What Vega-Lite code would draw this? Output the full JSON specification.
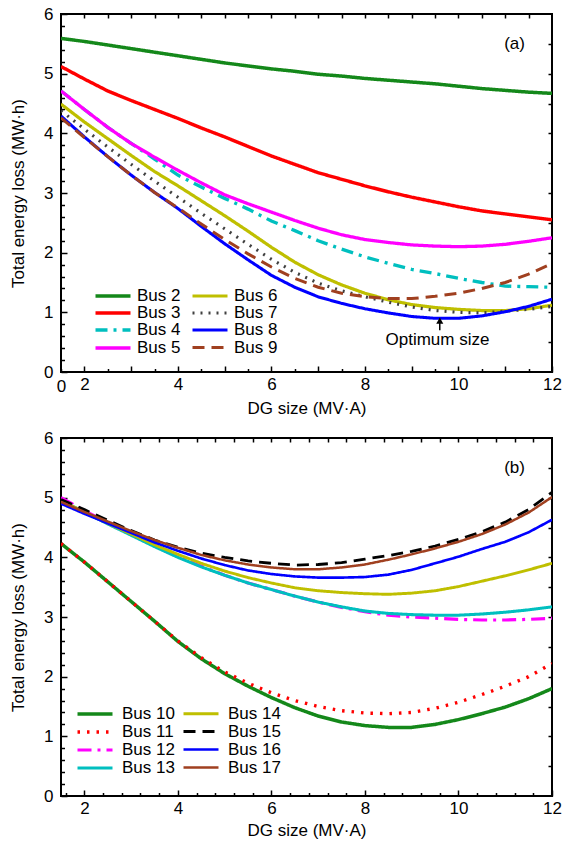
{
  "$schema": "https://vega.github.io/schema/vega-lite/v6.json",
  "padding": {"left": 8, "top": 4, "right": 2, "bottom": 4},
  "config": {
    "font": "Liberation Sans",
    "view": {"stroke": "black", "strokeWidth": 2},
    "axis": {"grid": false, "domain": false, "labelFontSize": 17, "titleFontSize": 17, "titleFontWeight": "normal", "labelColor": "black", "titleColor": "black", "tickColor": "black", "tickWidth": 1.5, "labelFont": "Liberation Sans", "titleFont": "Liberation Sans"},
    "legend": {"labelFont": "Liberation Sans", "labelFontSize": 17, "labelColor": "black"}
  },
  "datasets": {
    "a": [
      {"x": 1.5, "Bus 2": 5.59, "Bus 3": 5.12, "Bus 4": 4.71, "Bus 5": 4.71, "Bus 6": 4.49, "Bus 7": 4.38, "Bus 8": 4.29, "Bus 9": 4.26},
      {"x": 2, "Bus 2": 5.54, "Bus 3": 4.91, "Bus 4": 4.40, "Bus 5": 4.40, "Bus 6": 4.19, "Bus 7": 4.07, "Bus 8": 3.94, "Bus 9": 3.93},
      {"x": 2.5, "Bus 2": 5.48, "Bus 3": 4.71, "Bus 4": 4.10, "Bus 5": 4.10, "Bus 6": 3.91, "Bus 7": 3.77, "Bus 8": 3.61, "Bus 9": 3.61},
      {"x": 3, "Bus 2": 5.42, "Bus 3": 4.55, "Bus 4": 3.83, "Bus 5": 3.83, "Bus 6": 3.63, "Bus 7": 3.48, "Bus 8": 3.30, "Bus 9": 3.30},
      {"x": 3.5, "Bus 2": 5.36, "Bus 3": 4.40, "Bus 4": 3.57, "Bus 5": 3.60, "Bus 6": 3.36, "Bus 7": 3.20, "Bus 8": 3.01, "Bus 9": 3.01},
      {"x": 4, "Bus 2": 5.30, "Bus 3": 4.25, "Bus 4": 3.30, "Bus 5": 3.38, "Bus 6": 3.12, "Bus 7": 2.93, "Bus 8": 2.74, "Bus 9": 2.75},
      {"x": 4.5, "Bus 2": 5.24, "Bus 3": 4.09, "Bus 4": 3.10, "Bus 5": 3.17, "Bus 6": 2.87, "Bus 7": 2.66, "Bus 8": 2.44, "Bus 9": 2.48},
      {"x": 5, "Bus 2": 5.18, "Bus 3": 3.94, "Bus 4": 2.91, "Bus 5": 2.97, "Bus 6": 2.62, "Bus 7": 2.40, "Bus 8": 2.15, "Bus 9": 2.22},
      {"x": 5.5, "Bus 2": 5.13, "Bus 3": 3.78, "Bus 4": 2.73, "Bus 5": 2.82, "Bus 6": 2.36, "Bus 7": 2.14, "Bus 8": 1.88, "Bus 9": 1.98},
      {"x": 6, "Bus 2": 5.08, "Bus 3": 3.62, "Bus 4": 2.53, "Bus 5": 2.68, "Bus 6": 2.09, "Bus 7": 1.89, "Bus 8": 1.62, "Bus 9": 1.76},
      {"x": 6.5, "Bus 2": 5.04, "Bus 3": 3.48, "Bus 4": 2.37, "Bus 5": 2.54, "Bus 6": 1.84, "Bus 7": 1.67, "Bus 8": 1.42, "Bus 9": 1.57},
      {"x": 7, "Bus 2": 4.99, "Bus 3": 3.34, "Bus 4": 2.20, "Bus 5": 2.41, "Bus 6": 1.63, "Bus 7": 1.49, "Bus 8": 1.26, "Bus 9": 1.42},
      {"x": 7.5, "Bus 2": 4.96, "Bus 3": 3.23, "Bus 4": 2.06, "Bus 5": 2.30, "Bus 6": 1.46, "Bus 7": 1.36, "Bus 8": 1.15, "Bus 9": 1.32},
      {"x": 8, "Bus 2": 4.92, "Bus 3": 3.12, "Bus 4": 1.93, "Bus 5": 2.22, "Bus 6": 1.32, "Bus 7": 1.26, "Bus 8": 1.06, "Bus 9": 1.26},
      {"x": 8.5, "Bus 2": 4.89, "Bus 3": 3.02, "Bus 4": 1.82, "Bus 5": 2.17, "Bus 6": 1.21, "Bus 7": 1.17, "Bus 8": 0.99, "Bus 9": 1.23},
      {"x": 9, "Bus 2": 4.86, "Bus 3": 2.93, "Bus 4": 1.72, "Bus 5": 2.13, "Bus 6": 1.13, "Bus 7": 1.09, "Bus 8": 0.93, "Bus 9": 1.23},
      {"x": 9.5, "Bus 2": 4.83, "Bus 3": 2.85, "Bus 4": 1.65, "Bus 5": 2.11, "Bus 6": 1.08, "Bus 7": 1.03, "Bus 8": 0.90, "Bus 9": 1.27},
      {"x": 10, "Bus 2": 4.79, "Bus 3": 2.77, "Bus 4": 1.57, "Bus 5": 2.10, "Bus 6": 1.05, "Bus 7": 1.00, "Bus 8": 0.90, "Bus 9": 1.32},
      {"x": 10.5, "Bus 2": 4.75, "Bus 3": 2.70, "Bus 4": 1.50, "Bus 5": 2.11, "Bus 6": 1.03, "Bus 7": 0.99, "Bus 8": 0.94, "Bus 9": 1.40},
      {"x": 11, "Bus 2": 4.72, "Bus 3": 2.65, "Bus 4": 1.44, "Bus 5": 2.14, "Bus 6": 1.03, "Bus 7": 1.02, "Bus 8": 1.01, "Bus 9": 1.50},
      {"x": 11.5, "Bus 2": 4.69, "Bus 3": 2.60, "Bus 4": 1.43, "Bus 5": 2.19, "Bus 6": 1.06, "Bus 7": 1.05, "Bus 8": 1.10, "Bus 9": 1.64},
      {"x": 12, "Bus 2": 4.67, "Bus 3": 2.55, "Bus 4": 1.42, "Bus 5": 2.25, "Bus 6": 1.12, "Bus 7": 1.10, "Bus 8": 1.22, "Bus 9": 1.82}
    ],
    "b": [
      {"x": 1.5, "Bus 10": 4.23, "Bus 11": 4.23, "Bus 12": 5.00, "Bus 13": 4.95, "Bus 14": 4.95, "Bus 15": 4.97, "Bus 16": 4.90, "Bus 17": 4.93},
      {"x": 2, "Bus 10": 3.92, "Bus 11": 3.92, "Bus 12": 4.78, "Bus 13": 4.76, "Bus 14": 4.76, "Bus 15": 4.80, "Bus 16": 4.73, "Bus 17": 4.76},
      {"x": 2.5, "Bus 10": 3.59, "Bus 11": 3.59, "Bus 12": 4.58, "Bus 13": 4.56, "Bus 14": 4.57, "Bus 15": 4.62, "Bus 16": 4.57, "Bus 17": 4.60},
      {"x": 3, "Bus 10": 3.26, "Bus 11": 3.26, "Bus 12": 4.38, "Bus 13": 4.37, "Bus 14": 4.39, "Bus 15": 4.45, "Bus 16": 4.41, "Bus 17": 4.44},
      {"x": 3.5, "Bus 10": 2.93, "Bus 11": 2.93, "Bus 12": 4.19, "Bus 13": 4.18, "Bus 14": 4.21, "Bus 15": 4.29, "Bus 16": 4.25, "Bus 17": 4.29},
      {"x": 4, "Bus 10": 2.59, "Bus 11": 2.60, "Bus 12": 4.01, "Bus 13": 4.00, "Bus 14": 4.05, "Bus 15": 4.17, "Bus 16": 4.11, "Bus 17": 4.16},
      {"x": 4.5, "Bus 10": 2.30, "Bus 11": 2.32, "Bus 12": 3.85, "Bus 13": 3.84, "Bus 14": 3.90, "Bus 15": 4.07, "Bus 16": 3.98, "Bus 17": 4.04},
      {"x": 5, "Bus 10": 2.05, "Bus 11": 2.08, "Bus 12": 3.70, "Bus 13": 3.70, "Bus 14": 3.77, "Bus 15": 4.00, "Bus 16": 3.87, "Bus 17": 3.95},
      {"x": 5.5, "Bus 10": 1.84, "Bus 11": 1.89, "Bus 12": 3.57, "Bus 13": 3.57, "Bus 14": 3.66, "Bus 15": 3.94, "Bus 16": 3.78, "Bus 17": 3.88},
      {"x": 6, "Bus 10": 1.65, "Bus 11": 1.73, "Bus 12": 3.46, "Bus 13": 3.46, "Bus 14": 3.57, "Bus 15": 3.90, "Bus 16": 3.72, "Bus 17": 3.83},
      {"x": 6.5, "Bus 10": 1.48, "Bus 11": 1.60, "Bus 12": 3.35, "Bus 13": 3.35, "Bus 14": 3.49, "Bus 15": 3.87, "Bus 16": 3.68, "Bus 17": 3.80},
      {"x": 7, "Bus 10": 1.34, "Bus 11": 1.50, "Bus 12": 3.25, "Bus 13": 3.25, "Bus 14": 3.44, "Bus 15": 3.88, "Bus 16": 3.66, "Bus 17": 3.80},
      {"x": 7.5, "Bus 10": 1.24, "Bus 11": 1.43, "Bus 12": 3.16, "Bus 13": 3.17, "Bus 14": 3.41, "Bus 15": 3.91, "Bus 16": 3.66, "Bus 17": 3.83},
      {"x": 8, "Bus 10": 1.18, "Bus 11": 1.39, "Bus 12": 3.09, "Bus 13": 3.10, "Bus 14": 3.39, "Bus 15": 3.97, "Bus 16": 3.67, "Bus 17": 3.88},
      {"x": 8.5, "Bus 10": 1.15, "Bus 11": 1.38, "Bus 12": 3.03, "Bus 13": 3.06, "Bus 14": 3.38, "Bus 15": 4.03, "Bus 16": 3.71, "Bus 17": 3.96},
      {"x": 9, "Bus 10": 1.15, "Bus 11": 1.40, "Bus 12": 3.00, "Bus 13": 3.04, "Bus 14": 3.40, "Bus 15": 4.10, "Bus 16": 3.79, "Bus 17": 4.05},
      {"x": 9.5, "Bus 10": 1.20, "Bus 11": 1.47, "Bus 12": 2.98, "Bus 13": 3.03, "Bus 14": 3.44, "Bus 15": 4.19, "Bus 16": 3.90, "Bus 17": 4.15},
      {"x": 10, "Bus 10": 1.28, "Bus 11": 1.57, "Bus 12": 2.96, "Bus 13": 3.03, "Bus 14": 3.51, "Bus 15": 4.30, "Bus 16": 4.01, "Bus 17": 4.26},
      {"x": 10.5, "Bus 10": 1.38, "Bus 11": 1.70, "Bus 12": 2.95, "Bus 13": 3.05, "Bus 14": 3.60, "Bus 15": 4.43, "Bus 16": 4.14, "Bus 17": 4.39},
      {"x": 11, "Bus 10": 1.49, "Bus 11": 1.84, "Bus 12": 2.95, "Bus 13": 3.08, "Bus 14": 3.69, "Bus 15": 4.59, "Bus 16": 4.26, "Bus 17": 4.55},
      {"x": 11.5, "Bus 10": 1.63, "Bus 11": 2.00, "Bus 12": 2.96, "Bus 13": 3.12, "Bus 14": 3.79, "Bus 15": 4.80, "Bus 16": 4.42, "Bus 17": 4.75},
      {"x": 12, "Bus 10": 1.80, "Bus 11": 2.22, "Bus 12": 2.98, "Bus 13": 3.17, "Bus 14": 3.90, "Bus 15": 5.09, "Bus 16": 4.63, "Bus 17": 5.01}
    ]
  },
  "spacing": 10,
  "resolve": {"scale": {"color": "independent", "strokeDash": "independent", "strokeWidth": "independent"}, "legend": {"color": "independent", "strokeDash": "independent", "strokeWidth": "independent"}},
  "vconcat": [
    {
      "width": 491,
      "height": 358,
      "resolve": {"axis": {"x": "independent", "y": "independent"}},
      "layer": [
        {
          "data": {"name": "a"},
          "transform": [{"fold": ["Bus 2", "Bus 3", "Bus 4", "Bus 5", "Bus 6", "Bus 7", "Bus 8", "Bus 9"], "as": ["bus", "loss"]}],
          "mark": {"type": "line", "clip": true},
          "encoding": {
            "x": {"field": "x", "type": "quantitative", "scale": {"domain": [1.5, 12], "nice": false, "zero": false},
              "axis": {"orient": "bottom", "title": "DG size (MV·A)", "values": [1.5, 2, 2.5, 3, 3.5, 4, 4.5, 5, 5.5, 6, 6.5, 7, 7.5, 8, 8.5, 9, 9.5, 10, 10.5, 11, 11.5, 12],
                "labelExpr": "datum.value == 1.5 ? '0' : (datum.value % 2 == 0 ? format(datum.value, 'd') : '')",
                "tickSize": {"condition": {"test": "datum.value % 1 == 0", "value": -6}, "value": -3.5},
                "labelPadding": 10, "titlePadding": 6, "labelFlush": false}},
            "y": {"field": "loss", "type": "quantitative", "scale": {"domain": [0, 6], "nice": false},
              "axis": {"orient": "left", "title": "Total energy loss (MW·h)", "values": [0, 0.2, 0.4, 0.6, 0.8, 1, 1.2, 1.4, 1.6, 1.8, 2, 2.2, 2.4, 2.6, 2.8, 3, 3.2, 3.4, 3.6, 3.8, 4, 4.2, 4.4, 4.6, 4.8, 5, 5.2, 5.4, 5.6, 5.8, 6],
                "labelExpr": "datum.value % 1 == 0 ? format(datum.value, 'd') : ''",
                "tickSize": {"condition": {"test": "datum.value % 1 == 0", "value": -6}, "value": -3.5},
                "labelPadding": 14, "titlePadding": 16}},
            "color": {"field": "bus", "type": "nominal",
              "scale": {"domain": ["Bus 2", "Bus 3", "Bus 4", "Bus 5", "Bus 6", "Bus 7", "Bus 8", "Bus 9"], "range": ["#14881a", "#ff0000", "#00bfbf", "#ff00ff", "#bfbf00", "#404040", "#0000ff", "#a04020"]},
              "legend": {"orient": "none", "legendX": 43, "legendY": 273, "columns": 2, "title": null, "symbolType": "M-2.5,0H2.5", "symbolSize": 196, "rowPadding": 0, "columnPadding": 5, "labelOffset": 15, "padding": 0}},
            "strokeDash": {"field": "bus", "type": "nominal",
              "scale": {"domain": ["Bus 2", "Bus 3", "Bus 4", "Bus 5", "Bus 6", "Bus 7", "Bus 8", "Bus 9"], "range": [[1, 0], [1, 0], [12, 6, 3, 6], [1, 0], [1, 0], [2, 6], [1, 0], [12, 7]]}},
            "strokeWidth": {"field": "bus", "type": "ordinal",
              "scale": {"domain": ["Bus 2", "Bus 3", "Bus 4", "Bus 5", "Bus 6", "Bus 7", "Bus 8", "Bus 9"], "range": [3.5, 3, 2.5, 5, 3, 2.5, 1.5, 3]}}
          }
        },
        {
          "data": {"values": [{"x": 11.2, "loss": 5.5, "t": "(a)"}, {"x": 9.55, "loss": 0.53, "t": "Optimum size"}]},
          "mark": {"type": "text", "fontSize": 17, "color": "black", "font": "Liberation Sans"},
          "encoding": {
            "x": {"field": "x", "type": "quantitative", "axis": null},
            "y": {"field": "loss", "type": "quantitative", "axis": null},
            "text": {"field": "t"}
          }
        },
        {
          "data": {"values": [{"x": 9.6, "loss": 0.7, "loss2": 0.86}]},
          "mark": {"type": "rule", "color": "black", "strokeWidth": 1.5},
          "encoding": {
            "x": {"field": "x", "type": "quantitative", "axis": null},
            "y": {"field": "loss", "type": "quantitative", "axis": null},
            "y2": {"field": "loss2"}
          }
        },
        {
          "data": {"values": [{"x": 9.6, "loss": 0.86}]},
          "mark": {"type": "point", "shape": "triangle-up", "filled": true, "color": "black", "size": 50, "opacity": 1},
          "encoding": {
            "x": {"field": "x", "type": "quantitative", "axis": null},
            "y": {"field": "loss", "type": "quantitative", "axis": null}
          }
        },
        {
          "data": {"values": [{"x": 1.5, "loss": 0}]},
          "mark": {"type": "point", "opacity": 0},
          "encoding": {
            "x": {"field": "x", "type": "quantitative", "axis": {"orient": "top", "title": null, "labels": false, "tickSize": -4, "values": [2, 2.5, 3, 3.5, 4, 4.5, 5, 5.5, 6, 6.5, 7, 7.5, 8, 8.5, 9, 9.5, 10, 10.5, 11, 11.5]}},
            "y": {"field": "loss", "type": "quantitative", "axis": {"orient": "right", "title": null, "labels": false, "tickSize": -4, "values": [0.5, 1, 1.5, 2, 2.5, 3, 3.5, 4, 4.5, 5, 5.5]}}
          }
        }
      ]
    },
    {
      "width": 491,
      "height": 358,
      "resolve": {"axis": {"x": "independent", "y": "independent"}},
      "layer": [
        {
          "data": {"name": "b"},
          "transform": [{"fold": ["Bus 10", "Bus 11", "Bus 12", "Bus 13", "Bus 14", "Bus 15", "Bus 16", "Bus 17"], "as": ["bus", "loss"]}],
          "mark": {"type": "line", "clip": true},
          "encoding": {
            "x": {"field": "x", "type": "quantitative", "scale": {"domain": [1.5, 12], "nice": false, "zero": false},
              "axis": {"orient": "bottom", "title": "DG size (MV·A)", "values": [1.6, 2, 2.4, 2.8, 3.2, 3.6, 4, 4.4, 4.8, 5.2, 5.6, 6, 6.4, 6.8, 7.2, 7.6, 8, 8.4, 8.8, 9.2, 9.6, 10, 10.4, 10.8, 11.2, 11.6, 12],
                "labelExpr": "datum.value % 2 == 0 ? format(datum.value, 'd') : ''",
                "tickSize": {"condition": {"test": "datum.value % 2 == 0", "value": -6}, "value": -3.5},
                "labelPadding": 10, "titlePadding": 6, "labelFlush": false}},
            "y": {"field": "loss", "type": "quantitative", "scale": {"domain": [0, 6], "nice": false},
              "axis": {"orient": "left", "title": "Total energy loss (MW·h)", "values": [0, 0.2, 0.4, 0.6, 0.8, 1, 1.2, 1.4, 1.6, 1.8, 2, 2.2, 2.4, 2.6, 2.8, 3, 3.2, 3.4, 3.6, 3.8, 4, 4.2, 4.4, 4.6, 4.8, 5, 5.2, 5.4, 5.6, 5.8, 6],
                "labelExpr": "datum.value % 1 == 0 ? format(datum.value, 'd') : ''",
                "tickSize": {"condition": {"test": "datum.value % 1 == 0", "value": -6}, "value": -3.5},
                "labelPadding": 14, "titlePadding": 16}},
            "color": {"field": "bus", "type": "nominal",
              "scale": {"domain": ["Bus 10", "Bus 11", "Bus 12", "Bus 13", "Bus 14", "Bus 15", "Bus 16", "Bus 17"], "range": ["#14881a", "#ff0000", "#ff00ff", "#00bfbf", "#bfbf00", "#000000", "#0000ff", "#a04020"]},
              "legend": {"orient": "none", "legendX": 25, "legendY": 267, "columns": 2, "title": null, "symbolType": "M-2.5,0H2.5", "symbolSize": 196, "rowPadding": 0, "columnPadding": 2, "labelOffset": 18, "padding": 0}},
            "strokeDash": {"field": "bus", "type": "nominal",
              "scale": {"domain": ["Bus 10", "Bus 11", "Bus 12", "Bus 13", "Bus 14", "Bus 15", "Bus 16", "Bus 17"], "range": [[1, 0], [2.5, 7], [14, 6, 3, 6], [1, 0], [1, 0], [12, 7], [1, 0], [1, 0]]}},
            "strokeWidth": {"field": "bus", "type": "ordinal",
              "scale": {"domain": ["Bus 10", "Bus 11", "Bus 12", "Bus 13", "Bus 14", "Bus 15", "Bus 16", "Bus 17"], "range": [3.5, 2.5, 3, 3.5, 4.5, 3, 4, 1.5]}}
          }
        },
        {
          "data": {"values": [{"x": 11.2, "loss": 5.5, "t": "(b)"}]},
          "mark": {"type": "text", "fontSize": 17, "color": "black", "font": "Liberation Sans"},
          "encoding": {
            "x": {"field": "x", "type": "quantitative", "axis": null},
            "y": {"field": "loss", "type": "quantitative", "axis": null},
            "text": {"field": "t"}
          }
        },
        {
          "data": {"values": [{"x": 1.5, "loss": 0}]},
          "mark": {"type": "point", "opacity": 0},
          "encoding": {
            "x": {"field": "x", "type": "quantitative", "axis": {"orient": "top", "title": null, "labels": false, "tickSize": -4, "values": [2, 2.4, 2.8, 3.2, 3.6, 4, 4.4, 4.8, 5.2, 5.6, 6, 6.4, 6.8, 7.2, 7.6, 8, 8.4, 8.8, 9.2, 9.6, 10, 10.4, 10.8, 11.2, 11.6]}},
            "y": {"field": "loss", "type": "quantitative", "axis": {"orient": "right", "title": null, "labels": false, "tickSize": -4, "values": [0.5, 1, 1.5, 2, 2.5, 3, 3.5, 4, 4.5, 5, 5.5]}}
          }
        }
      ]
    }
  ]
}
